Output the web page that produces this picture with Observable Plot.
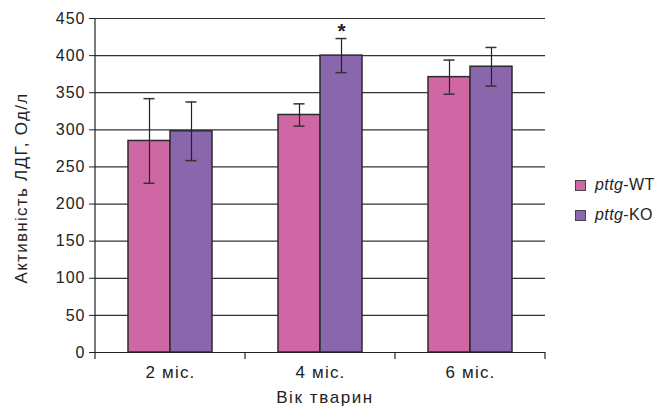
<!DOCTYPE html>
<html>
<head>
<meta charset="utf-8">
<script src="https://cdn.jsdelivr.net/npm/d3@7"></script>
<script src="https://cdn.jsdelivr.net/npm/@observablehq/plot@0.6"></script>
<style>
  html, body { margin: 0; padding: 0; background: #fff; }
  #wrap { position: relative; width: 663px; height: 417px; font-family: "Liberation Sans", Arial, sans-serif; color: #222; }
  #ytitle { position: absolute; left: 22px; top: 188px; transform: translate(-50%, -50%) rotate(-90deg); font-size: 17px; letter-spacing: 1.3px; white-space: nowrap; }
  #xtitle { position: absolute; left: 325px; top: 398px; transform: translate(-50%, -50%); font-size: 17px; letter-spacing: 1.6px; white-space: nowrap; }
  #legend { position: absolute; left: 575px; top: 170px; font-size: 16px; letter-spacing: 0.4px; }
  #legend .item { display: flex; align-items: center; height: 30px; }
  #legend .sw { width: 9px; height: 9px; border: 1px solid #444; margin-right: 9px; }
  .ytick text { letter-spacing: 1px; }
  .fxtick text { letter-spacing: 1.2px; }
</style>
</head>
<body>
<div id="wrap">
  <div id="chart"></div>
  <div id="ytitle">Активність ЛДГ, Од/л</div>
  <div id="xtitle">Вік тварин</div>
  <div id="legend"></div>
</div>
<script>
// Data
const ages = ["2 міс.", "4 міс.", "6 міс."];
const groups = ["pttg-WT", "pttg-KO"];
const wtMean = [285, 320, 371];
const wtErr = [57, 15, 23];
const koMean = [298, 400, 385];
const koErr = [39.5, 23, 26];
const significant = [{age: "4 міс.", group: "pttg-KO"}];
const yTicks = [0, 50, 100, 150, 200, 250, 300, 350, 400, 450];
const colors = ["#CF67A5", "#8A66AC"];

const rows = [];
ages.forEach((a, i) => {
  rows.push({age: a, group: groups[0], value: wtMean[i], err: wtErr[i]});
  rows.push({age: a, group: groups[1], value: koMean[i], err: koErr[i]});
});
const starRows = significant.map(s => rows.find(r => r.age === s.age && r.group === s.group));

const chart = Plot.plot({
  width: 663,
  height: 417,
  marginLeft: 95,
  marginRight: 118,
  marginTop: 18,
  marginBottom: 65,
  style: {fontFamily: "Liberation Sans, Arial, sans-serif", fontSize: "14px", color: "#222", background: "white", overflow: "visible"},
  fx: {domain: ages, padding: 0, label: null, axis: null},
  x: {domain: groups, paddingInner: 0, paddingOuter: 0.745, axis: null},
  y: {domain: [0, 450], label: null, axis: null},
  color: {domain: groups, range: colors},
  marks: [
    Plot.gridY(yTicks, {stroke: "#333", strokeOpacity: 1, strokeWidth: 1.2}),
    Plot.barY(rows, {fx: "age", x: "group", y: "value", fill: "group", stroke: "#2b2b2b", strokeWidth: 1.5}),
    Plot.ruleX(rows, {fx: "age", x: "group", y1: d => d.value - d.err, y2: d => d.value + d.err, stroke: "#222", strokeWidth: 1.2}),
    Plot.tickY(rows, {fx: "age", x: "group", y: d => d.value + d.err, stroke: "#333", strokeWidth: 1.5, insetLeft: 15.5, insetRight: 15.5}),
    Plot.tickY(rows, {fx: "age", x: "group", y: d => d.value - d.err, stroke: "#333", strokeWidth: 1.5, insetLeft: 15.5, insetRight: 15.5}),
    Plot.text(starRows, {fx: "age", x: "group", y: d => d.value + d.err, text: () => "*", dy: -7, fontSize: 21, fontWeight: "bold", fill: "#222"}),
    Plot.ruleY([0], {stroke: "#222", strokeWidth: 1.2}),
    Plot.axisY({ticks: yTicks, tickSize: 6, tickPadding: 4, fontSize: 16, label: null, stroke: "#222", className: "ytick"}),
    Plot.axisFx({anchor: "bottom", tickSize: 0, tickPadding: 13, fontSize: 17, label: null, className: "fxtick"})
  ]
});
document.getElementById("chart").appendChild(chart);

// Axis lines and category boundary ticks, positioned from Plot's own scales
const fx = chart.scale("fx");
const y = chart.scale("y");
const svg = d3.select(chart);
const left = fx.apply(ages[0]);
const y0 = y.apply(0);
const yTop = y.apply(yTicks[yTicks.length - 1]);
const g = svg.append("g").attr("stroke", "#222").attr("stroke-width", 1.2);
g.append("line").attr("x1", left).attr("x2", left).attr("y1", yTop).attr("y2", y0 + 7);
ages.forEach(a => {
  const xr = fx.apply(a) + fx.bandwidth;
  g.append("line").attr("x1", xr).attr("x2", xr).attr("y1", y0).attr("y2", y0 + 7);
});

// Legend
const legend = d3.select("#legend");
groups.forEach((grp, i) => {
  const [it, rest] = grp.split("-");
  const item = legend.append("div").attr("class", "item");
  item.append("div").attr("class", "sw").style("background", colors[i]);
  const t = item.append("span");
  t.append("i").text(it);
  t.append("span").text("-" + rest);
});
</script>
</body>
</html>
